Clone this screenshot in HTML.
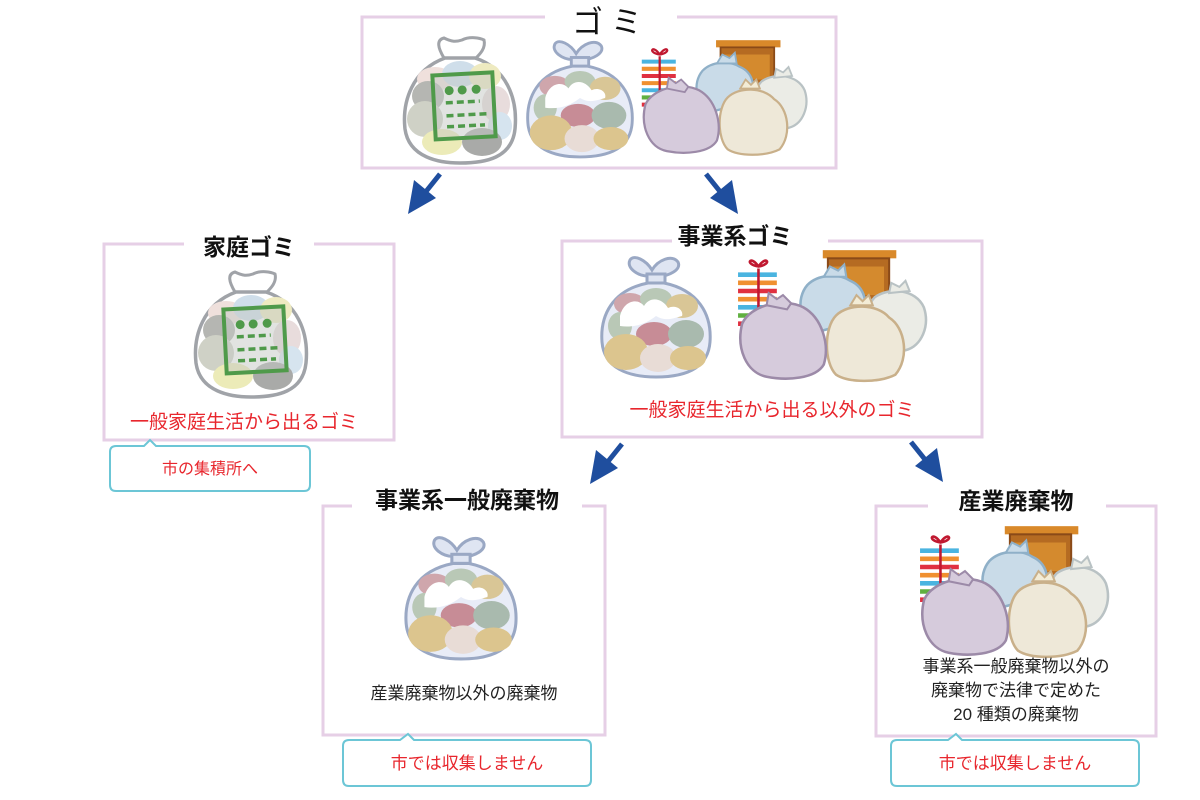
<!DOCTYPE html>
<html><head><meta charset="utf-8"><style>
html,body{margin:0;padding:0;background:#fff;}
svg{display:block;}
text{font-family:"Liberation Sans","Noto Sans CJK JP",sans-serif;}
.t{font-size:23px;font-weight:bold;fill:#111;text-anchor:middle;}
.r{font-size:19px;fill:#e8262d;text-anchor:middle;}
.d{font-size:17px;fill:#222;text-anchor:middle;}
.bx{fill:#fff;stroke:#e6cfe6;stroke-width:3;}
.co{fill:#fff;stroke:#6cc6d6;stroke-width:2;}
</style></head><body>
<svg width="1200" height="800" viewBox="0 0 1200 800" xmlns="http://www.w3.org/2000/svg">
<defs>
<symbol id="hb" viewBox="0 0 120 132">
 <path d="M44,24 C38,14 36,6 44,4 C52,8 56,8 62,6 C70,2 80,4 84,6 C86,14 80,20 76,24 Z" fill="#fff" stroke="#a0a3a8" stroke-width="3"/>
 <path d="M45,24 C12,36 2,68 5,95 C9,124 40,129 60,129 C86,129 112,124 115,95 C118,64 106,34 75,24 Z" fill="#fff" stroke="#a0a3a8" stroke-width="3.5"/>
 <ellipse cx="35" cy="45" rx="18" ry="12" fill="#efe0dc"/>
 <ellipse cx="60" cy="40" rx="18" ry="13" fill="#cfdeea"/>
 <ellipse cx="85" cy="42" rx="16" ry="13" fill="#eeeac0"/>
 <ellipse cx="28" cy="62" rx="16" ry="15" fill="#b5b6b2"/>
 <ellipse cx="25" cy="85" rx="18" ry="18" fill="#cfd1c6"/>
 <ellipse cx="96" cy="70" rx="14" ry="18" fill="#e8dcdc"/>
 <ellipse cx="100" cy="92" rx="12" ry="14" fill="#d6e4ef"/>
 <ellipse cx="42" cy="108" rx="20" ry="13" fill="#ecebb8"/>
 <ellipse cx="82" cy="108" rx="20" ry="14" fill="#a9aaa8"/>
 <g transform="rotate(-3 62 72)">
 <rect x="34" y="40" width="60" height="64" fill="#c4c8c4" fill-opacity="0.5" stroke="#4f9a4a" stroke-width="4"/>
 <circle cx="50" cy="56" r="4.5" fill="#4f9a4a"/><circle cx="63" cy="56" r="4.5" fill="#4f9a4a"/><circle cx="77" cy="56" r="4.5" fill="#4f9a4a"/>
 <path d="M46,68h34M46,81h42M46,92h38" stroke="#4f9a4a" stroke-width="3.5" stroke-dasharray="7 4"/>
 </g>
</symbol>
<symbol id="cb" viewBox="0 0 116 126">
 <path d="M50,22 C40,22 28,14 32,6 C36,0 48,6 54,16 C60,6 74,0 80,8 C84,16 70,22 62,22 Z" fill="#dfe5f2" stroke="#9aa8c4" stroke-width="3"/>
 <rect x="49" y="20" width="18" height="9" fill="#dfe5f2" stroke="#9aa8c4" stroke-width="3"/>
 <path d="M50,29 C14,36 2,62 4,88 C6,114 30,123 58,123 C88,123 110,114 112,88 C114,60 100,36 66,29 Z" fill="#e8ecf7" stroke="#9aa8c4" stroke-width="3"/>
 <ellipse cx="32" cy="50" rx="16" ry="11" fill="#cfa6ac"/>
 <ellipse cx="58" cy="45" rx="16" ry="11" fill="#b9c8b6"/>
 <ellipse cx="84" cy="52" rx="16" ry="12" fill="#d9c696"/>
 <ellipse cx="22" cy="72" rx="12" ry="14" fill="#b9c8b6"/>
 <ellipse cx="56" cy="80" rx="18" ry="12" fill="#c78c96"/>
 <ellipse cx="88" cy="80" rx="18" ry="14" fill="#a9baae"/>
 <ellipse cx="28" cy="98" rx="22" ry="18" fill="#dcc58e"/>
 <ellipse cx="60" cy="104" rx="18" ry="14" fill="#e8dcd6"/>
 <ellipse cx="90" cy="104" rx="18" ry="12" fill="#dcc58e"/>
 <path d="M22,62 C26,46 40,44 46,52 C52,42 64,44 70,54 C78,50 86,56 84,62 C76,64 68,68 58,62 C48,70 36,74 22,72 Z" fill="#fff"/>
</symbol>
<symbol id="pl" viewBox="0 0 190 135">
 <rect x="85" y="4" width="72" height="8" fill="#d9892a"/>
 <rect x="90" y="12" width="60" height="45" fill="#b56b22" stroke="#8a4a18" stroke-width="2"/>
 <rect x="95" y="20" width="50" height="28" fill="#d48a2e"/>
 <rect x="2" y="22" width="38" height="58" fill="#fff"/>
 <g stroke-width="4.5"><path d="M2,28h38" stroke="#4ab4e0"/><path d="M2,36h38" stroke="#f09030"/><path d="M2,44h38" stroke="#e03040"/><path d="M2,52h38" stroke="#f09030"/><path d="M2,60h38" stroke="#4ab4e0"/><path d="M2,68h38" stroke="#60b040"/><path d="M2,76h38" stroke="#e03040"/></g>
 <path d="M22,22v60M22,20c-8,-12 -14,-2 0,0c8,-12 14,-2 0,0" stroke="#c01830" stroke-width="2.5" fill="none"/>
 <path d="M70,38 C80,28 100,26 112,34 C126,40 130,56 124,72 L80,84 C62,76 58,52 70,38 Z" fill="#c9dbe8" stroke="#8fb0c8" stroke-width="2.5"/>
 <path d="M86,30 l6,-10 l8,4 l6,-6 l2,12 Z" fill="#c9dbe8" stroke="#8fb0c8" stroke-width="2"/>
 <path d="M136,50 C150,40 176,42 184,60 C190,78 182,98 166,102 L138,100 C126,88 124,62 136,50 Z" fill="#ebece6" stroke="#b9c2c4" stroke-width="2.5"/>
 <path d="M150,46 l2,-10 l8,4 l6,-6 l4,10 Z" fill="#ebece6" stroke="#b9c2c4" stroke-width="2"/>
 <path d="M98,68 C110,56 138,56 150,70 C166,80 170,110 156,126 C140,134 110,134 98,126 C86,114 86,80 98,68 Z" fill="#eee8d8" stroke="#c9b08a" stroke-width="2.5"/>
 <path d="M112,58 l6,-10 l6,6 l6,-6 l4,10 Z" fill="#f3ecd6" stroke="#c9b08a" stroke-width="2"/>
 <path d="M6,76 C14,58 46,50 66,60 C84,70 92,96 86,116 C78,130 50,132 30,128 C10,124 0,100 6,76 Z" fill="#d6cbdc" stroke="#9c8aa8" stroke-width="2.5"/>
 <path d="M30,58 l2,-12 l8,6 l6,-4 l8,8 l-4,6 Z" fill="#d6cbdc" stroke="#9c8aa8" stroke-width="2"/>
</symbol>
</defs>

<!-- top box -->
<rect class="bx" x="362" y="17" width="474" height="151"/>
<rect x="545" y="2" width="132" height="30" fill="#fff"/>
<text x="611" y="33" style="font-size:31px;fill:#111;text-anchor:middle;letter-spacing:8px">ゴミ</text>
<use href="#hb" x="400" y="34" width="120" height="132"/>
<use href="#cb" x="524" y="38" width="112" height="122"/>
<use href="#pl" x="640" y="32" width="170" height="130"/>

<!-- arrows -->
<g fill="#1f4e9e" stroke="#1f4e9e">
<path d="M440,174 L424,194" stroke-width="5"/><path d="M408,214 L414,180 L436,198 Z" stroke="none"/>
<path d="M706,174 L722,194" stroke-width="5"/><path d="M738,214 L732,180 L710,198 Z" stroke="none"/>
<path d="M622,444 L606,464" stroke-width="5"/><path d="M590,484 L596,450 L618,468 Z" stroke="none"/>
<path d="M911,442 L927,462" stroke-width="5"/><path d="M943,482 L937,448 L915,466 Z" stroke="none"/>
</g>

<!-- household -->
<rect class="bx" x="104" y="244" width="290" height="196"/>
<rect x="184" y="230" width="130" height="28" fill="#fff"/>
<text class="t" x="249" y="255">家庭ゴミ</text>
<use href="#hb" x="190" y="268" width="122" height="132"/>
<text class="r" x="244" y="428">一般家庭生活から出るゴミ</text>
<path class="co" d="M116,446 H144 L150,440 L156,446 H304 Q310,446 310,452 V485 Q310,491 304,491 H116 Q110,491 110,485 V452 Q110,446 116,446 Z"/>
<text class="r" x="210" y="474" style="font-size:16px">市の集積所へ</text>

<!-- business -->
<rect class="bx" x="562" y="241" width="420" height="196"/>
<rect x="672" y="226" width="156" height="28" fill="#fff"/>
<text class="t" x="735" y="244">事業系ゴミ</text>
<use href="#cb" x="598" y="254" width="116" height="126"/>
<use href="#pl" x="736" y="246" width="194" height="138"/>
<text class="r" x="772" y="416">一般家庭生活から出る以外のゴミ</text>

<!-- 事業系一般廃棄物 -->
<rect class="bx" x="323" y="506" width="282" height="229"/>
<rect x="352" y="486" width="230" height="30" fill="#fff"/>
<text class="t" x="467" y="508">事業系一般廃棄物</text>
<use href="#cb" x="402" y="534" width="118" height="128"/>
<text class="d" x="464" y="699">産業廃棄物以外の廃棄物</text>
<path class="co" d="M349,740 H400 L408,734 L414,740 H585 Q591,740 591,746 V780 Q591,786 585,786 H349 Q343,786 343,780 V746 Q343,740 349,740 Z"/>
<text class="r" x="467" y="769" style="font-size:17px">市では収集しません</text>

<!-- 産業廃棄物 -->
<rect class="bx" x="876" y="506" width="280" height="230"/>
<rect x="928" y="486" width="178" height="30" fill="#fff"/>
<text class="t" x="1016" y="509">産業廃棄物</text>
<use href="#pl" x="918" y="522" width="194" height="138"/>
<text class="d" x="1016" y="672">事業系一般廃棄物以外の</text>
<text class="d" x="1016" y="696">廃棄物で法律で定めた</text>
<text class="d" x="1016" y="720">20 種類の廃棄物</text>
<path class="co" d="M897,740 H948 L956,734 L962,740 H1133 Q1139,740 1139,746 V780 Q1139,786 1133,786 H897 Q891,786 891,780 V746 Q891,740 897,740 Z"/>
<text class="r" x="1015" y="769" style="font-size:17px">市では収集しません</text>
</svg>
</body></html>
